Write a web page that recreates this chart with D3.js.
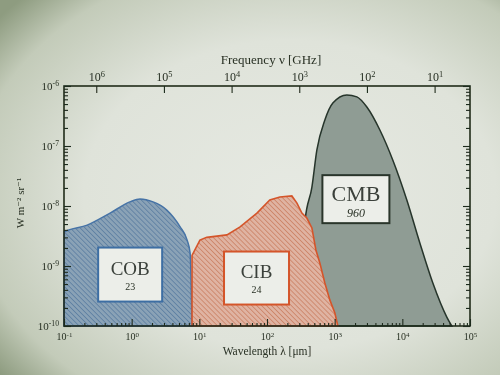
<!DOCTYPE html>
<html>
<head>
<meta charset="utf-8">
<script src="https://cdn.jsdelivr.net/npm/d3@7"></script>
<style>
  body { margin: 0; background: #cfd5c8; }
  svg { display: block; }
  text { font-family: "Liberation Serif", "DejaVu Serif", serif; fill: #283024; }
</style>
</head>
<body>
<svg width="500" height="375"></svg>
<script>
// wavelength in micron, brightness nu*I_nu in W m^-2 sr^-1
var cobWave = [0.1, 0.101, 0.22, 0.48, 0.94, 1.33, 2.07, 3.3, 5.2, 6.6, 7.3, 7.8];
var cobFlux = [1e-10, 3.7e-9, 4.8e-9, 7.6e-9, 1.17e-8, 1.31e-8, 1.17e-8, 8.6e-9, 4.5e-9, 2.7e-9, 1.65e-9, 1e-10];

var cibWave = [7.8, 7.8, 10.2, 12.9, 25.6, 40, 71, 110, 155, 233, 277, 328, 388, 461, 528, 604, 716, 850, 1007, 1115];
var cibFlux = [1e-10, 1.5e-9, 2.7e-9, 3.0e-9, 3.3e-9, 4.5e-9, 7.6e-9, 1.26e-8, 1.41e-8, 1.47e-8, 1.12e-8, 7.6e-9, 6.3e-9, 4.3e-9, 1.85e-9, 1.12e-9, 5.2e-10, 2.7e-10, 1.65e-10, 1e-10];

var cmbWave = [306, 339, 363, 461, 546, 716, 940, 1514, 2128, 2990, 4656, 7244, 11650, 18150, 28240, 45400, 53800];
var cmbFlux = [1e-10, 1.26e-9, 5.4e-9, 2.07e-8, 8.6e-8, 2.71e-7, 5.2e-7, 7.1e-7, 6.6e-7, 4.47e-7, 1.85e-7, 5.8e-8, 1.26e-8, 2.42e-9, 5.2e-10, 1.41e-10, 1e-10];

var bgNames = ["COB", "CIB", "CMB"];
var bgTotals = ["23", "24", "960"];

var waveTicks = [1e-1, 1e0, 1e1, 1e2, 1e3, 1e4, 1e5];
var freqTicks = [1e6, 1e5, 1e4, 1e3, 1e2, 1e1];
var fluxTicks = [1e-6, 1e-7, 1e-8, 1e-9, 1e-10];

var svg = d3.select("svg");
var C = 299792.458; // micron * GHz

var pLeft = 64, pRight = 470, pTop = 86, pBottom = 326;

var x = d3.scaleLog().domain([0.1, 1e5]).range([pLeft, pRight]);
var xf = d3.scaleLog().domain([C / 0.1, C / 1e5]).range([pLeft, pRight]);
var y = d3.scaleLog().domain([1e-10, 1e-6]).range([pBottom, pTop]);

// photo-ish background
var defs = svg.append("defs");
var rg = defs.append("radialGradient").attr("id", "paper")
    .attr("cx", "58%").attr("cy", "52%").attr("r", "75%");
rg.append("stop").attr("offset", "0").attr("stop-color", "#e6e9e2");
rg.append("stop").attr("offset", "0.55").attr("stop-color", "#dfe3da");
rg.append("stop").attr("offset", "0.85").attr("stop-color", "#c3cbb9");
rg.append("stop").attr("offset", "1").attr("stop-color", "#8e9c80");

defs.append("filter").attr("id", "soft")
  .append("feGaussianBlur").attr("stdDeviation", 0.55);

function hatch(id, base, line) {
  var p = defs.append("pattern").attr("id", id)
      .attr("patternUnits", "userSpaceOnUse")
      .attr("width", 3.5).attr("height", 3.5)
      .attr("patternTransform", "rotate(-45)");
  p.append("rect").attr("width", 3.5).attr("height", 3.5).attr("fill", base);
  p.append("line").attr("x1", 0).attr("y1", 0).attr("x2", 0).attr("y2", 3.5)
      .attr("stroke", line).attr("stroke-width", 1.4);
}
hatch("hBlue", "#8aa2b6", "#55799e");
hatch("hRed", "#dfb3a2", "#c97a5c");

svg.append("rect").attr("width", 500).attr("height", 375).attr("fill", "url(#paper)");

var g = svg.append("g").attr("filter", "url(#soft)");

function zipped(w, f) {
  return w.map(function(d, i) { return [d, f[i]]; });
}

var smooth = d3.line().x(d => x(d[0])).y(d => y(d[1])).curve(d3.curveMonotoneX);
var jagged = d3.line().x(d => x(d[0])).y(d => y(d[1]));

g.append("path")
    .attr("d", smooth(zipped(cmbWave, cmbFlux)) + "Z")
    .attr("fill", "#8f9c94")
    .attr("stroke", "#26342b")
    .attr("stroke-width", 1.5);

g.append("path")
    .attr("d", smooth(zipped(cobWave, cobFlux)) + "Z")
    .attr("fill", "url(#hBlue)")
    .attr("stroke", "#4673a6")
    .attr("stroke-width", 1.5);

g.append("path")
    .attr("d", jagged(zipped(cibWave, cibFlux)) + "Z")
    .attr("fill", "url(#hRed)")
    .attr("stroke", "#d4552b")
    .attr("stroke-width", 1.6);

// label boxes, anchored in data space
var boxes = [
  {wave: 0.95, flux: 7.2e-10, w: 64, h: 54, stroke: "#3d6ea3", size: 19, sub: 10},
  {wave: 70, flux: 6.3e-10, w: 65, h: 53, stroke: "#d4552b", size: 19, sub: 10},
  {wave: 2060, flux: 1.3e-8, w: 67, h: 48, stroke: "#2a352c", size: 22, sub: 12}
];
boxes.forEach(function(b, i) {
  var cx = x(b.wave), cy = y(b.flux);
  var bg = g.append("g").attr("transform", "translate(" + cx + "," + cy + ")");
  bg.append("rect")
      .attr("x", -b.w / 2).attr("y", -b.h / 2)
      .attr("width", b.w).attr("height", b.h)
      .attr("fill", "#eceee9")
      .attr("stroke", b.stroke)
      .attr("stroke-width", 2);
  bg.append("text")
      .attr("text-anchor", "middle")
      .attr("y", i == 2 ? 2 : 0)
      .attr("font-size", b.size)
      .style("fill", "#3a403a")
      .text(bgNames[i]);
  bg.append("text")
      .attr("text-anchor", "middle")
      .attr("y", i == 2 ? 18 : 15)
      .attr("font-size", b.sub)
      .attr("font-style", i == 2 ? "italic" : "normal")
      .text(bgTotals[i]);
});

// frame
g.append("rect")
    .attr("x", pLeft).attr("y", pTop)
    .attr("width", pRight - pLeft).attr("height", pBottom - pTop)
    .attr("fill", "none")
    .attr("stroke", "#1f2a1c")
    .attr("stroke-width", 1.6);

function minors(lo, hi) {
  var out = [];
  for (var e = lo; e < hi; e++)
    for (var k = 2; k < 10; k++) out.push(k * Math.pow(10, e));
  return out;
}

function sup(sel, expo) {
  sel.each(function(d) {
    var t = d3.select(this).text("");
    t.append("tspan").text("10");
    t.append("tspan").attr("dy", "-0.5em").attr("font-size", "0.7em").text(expo(d));
  });
}

// bottom wavelength axis
var xb = g.append("g").attr("transform", "translate(0," + pBottom + ")")
    .call(d3.axisBottom(x).tickValues(waveTicks).tickSize(-7).tickPadding(7));
xb.selectAll("text").attr("font-size", 10).call(sup, d => Math.round(Math.log10(d)));
g.append("g").attr("transform", "translate(0," + pBottom + ")")
    .call(d3.axisBottom(x).tickValues(minors(-1, 5)).tickSize(-3).tickFormat(""));

// top frequency axis
var xt = g.append("g").attr("transform", "translate(0," + pTop + ")")
    .call(d3.axisTop(xf).tickValues(freqTicks).tickSize(-7).tickPadding(5));
xt.selectAll("text").attr("font-size", 12).call(sup, d => Math.round(Math.log10(d)));

// left + right brightness axes
var yl = g.append("g").attr("transform", "translate(" + pLeft + ",0)")
    .call(d3.axisLeft(y).tickValues(fluxTicks).tickSize(-7).tickPadding(5));
yl.selectAll("text").attr("font-size", 11).call(sup, d => "-" + Math.round(-Math.log10(d)));
g.append("g").attr("transform", "translate(" + pLeft + ",0)")
    .call(d3.axisLeft(y).tickValues(minors(-10, -6)).tickSize(-4).tickFormat(""));
g.append("g").attr("transform", "translate(" + pRight + ",0)")
    .call(d3.axisRight(y).tickValues(fluxTicks).tickSize(-7).tickFormat(""));
g.append("g").attr("transform", "translate(" + pRight + ",0)")
    .call(d3.axisRight(y).tickValues(minors(-10, -6)).tickSize(-4).tickFormat(""));

g.selectAll(".domain").remove();
g.selectAll(".tick line").attr("stroke", "#1f2a1c").attr("stroke-width", 1.1);

// titles
g.append("text")
    .attr("x", (pLeft + pRight) / 2 + 4).attr("y", 64)
    .attr("text-anchor", "middle")
    .attr("font-size", 13)
    .text("Frequency ν [GHz]");

g.append("text")
    .attr("x", (pLeft + pRight) / 2).attr("y", 355)
    .attr("text-anchor", "middle")
    .attr("font-size", 11.5)
    .text("Wavelength λ [μm]");

g.append("text")
    .attr("transform", "translate(24,203) rotate(-90)")
    .attr("text-anchor", "middle")
    .attr("font-size", 11)
    .text("W m⁻² sr⁻¹");
</script>
</body>
</html>
